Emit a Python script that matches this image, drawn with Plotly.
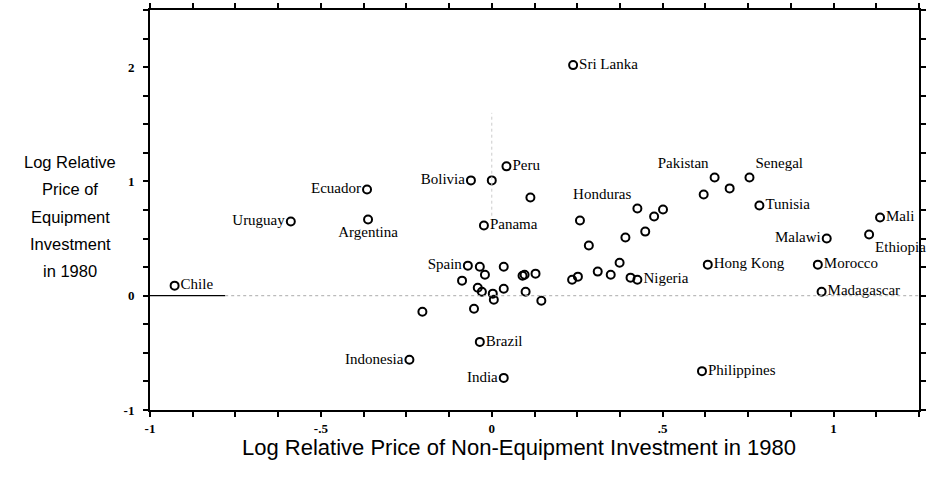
import plotly.graph_objects as go

# ---- data ----
names = ["Chile", "Uruguay", "Ecuador", "Argentina", "Sri Lanka", "Peru", "Bolivia", "", "",
         "Panama", "Spain", "", "", "", "", "", "", "", "", "", "", "", "", "", "", "",
         "Brazil", "Indonesia", "India", "", "", "", "", "", "", "", "", "", "Nigeria",
         "Honduras", "", "", "", "", "Pakistan", "", "Senegal", "Tunisia", "Mali", "Malawi",
         "Ethiopia", "Hong Kong", "Morocco", "Madagascar", "Philippines", ""]
x_nonequip = [-0.928, -0.588, -0.365, -0.362, 0.238, 0.043, -0.061, 0.000, 0.113,
              -0.023, -0.070, -0.035, -0.020, 0.035, 0.096, 0.128, -0.087, -0.041, -0.029,
              0.003, 0.006, 0.035, 0.099, 0.145, -0.203, -0.052,
              -0.035, -0.241, 0.035, 0.258, 0.284, 0.235, 0.252, 0.310, 0.348, 0.374,
              0.391, 0.406, 0.426,
              0.426, 0.449, 0.475, 0.501, 0.620, 0.652, 0.696, 0.754, 0.783, 1.136, 0.980,
              1.104, 0.632, 0.954, 0.965, 0.615, 0.090]
y_equip = [0.088, 0.649, 0.930, 0.667, 2.018, 1.132, 1.009, 1.009, 0.860,
           0.614, 0.263, 0.254, 0.184, 0.254, 0.184, 0.193, 0.132, 0.070, 0.035,
           0.018, -0.035, 0.061, 0.035, -0.044, -0.140, -0.114,
           -0.404, -0.561, -0.719, 0.658, 0.439, 0.140, 0.167, 0.211, 0.184, 0.289,
           0.509, 0.158, 0.140,
           0.763, 0.561, 0.693, 0.754, 0.886, 1.035, 0.939, 1.035, 0.789, 0.684, 0.500,
           0.535, 0.272, 0.272, 0.035, -0.660, 0.175]
label_pos = {
    "Chile": "middle right", "Uruguay": "middle left", "Ecuador": "middle left",
    "Argentina": "bottom center", "Sri Lanka": "middle right", "Peru": "middle right",
    "Bolivia": "middle left", "Panama": "middle right", "Spain": "middle left",
    "Brazil": "middle right", "Indonesia": "middle left", "India": "middle left",
    "Nigeria": "middle right", "Honduras": "top left", "Pakistan": "top left",
    "Senegal": "top right", "Tunisia": "middle right", "Mali": "middle right",
    "Malawi": "middle left", "Ethiopia": "bottom right", "Hong Kong": "middle right",
    "Morocco": "middle right", "Madagascar": "middle right", "Philippines": "middle right",
}
x_tickvals = [-1, -0.5, 0, 0.5, 1]
x_ticktext = ["-1", "-.5", "0", ".5", "1"]
y_tickvals = [-1, 0, 1, 2]
y_ticktext = ["-1", "0", "1", "2"]
y_title_lines = ["Log Relative", "Price of", "Equipment", "Investment", "in 1980"]
x_title = "Log Relative Price of Non-Equipment Investment in 1980"

positions = [label_pos.get(n, "middle right") for n in names]

fig = go.Figure()
# faint reference lines at zero
fig.add_shape(type="line", x0=-1, x1=-0.78, y0=0, y1=0, line=dict(color="black", width=1.2))
fig.add_shape(type="line", x0=-0.78, x1=1.25, y0=0, y1=0,
              line=dict(color="#aaa", width=1, dash="dot"))
fig.add_shape(type="line", x0=0, x1=0, y0=0.7, y1=1.6,
              line=dict(color="#ccc", width=1, dash="dot"))

fig.add_trace(go.Scatter(
    x=x_nonequip, y=y_equip, mode="markers+text",
    text=names, textposition=positions,
    textfont=dict(family="Liberation Serif", size=15, color="black"),
    marker=dict(symbol="circle-open", size=8, color="black", line=dict(width=2, color="black")),
    cliponaxis=False, showlegend=False, hoverinfo="skip",
))

axis_common = dict(
    showgrid=False, zeroline=False, showline=True, linecolor="black", linewidth=2,
    mirror="ticks", ticks="outside", ticklen=5, tickwidth=1.5, tickcolor="black",
    tickfont=dict(family="Liberation Serif", size=13, color="black"),
)
fig.update_xaxes(range=[-1, 1.25], tickvals=x_tickvals,
                 ticktext=["<b>%s</b>" % t for t in x_ticktext],
                 minor=dict(dtick=0.125, tick0=-1, ticks="outside", ticklen=5,
                            tickwidth=1.5, tickcolor="black"),
                 ticklabelstandoff=0, **axis_common)
fig.update_yaxes(range=[-1, 2.5], tickvals=y_tickvals,
                 ticktext=["<b>%s</b>" % t for t in y_ticktext],
                 minor=dict(dtick=0.25, tick0=-1, ticks="outside", ticklen=5,
                            tickwidth=1.5, tickcolor="black"),
                 ticklabelstandoff=6, **axis_common)

fig.add_annotation(text=x_title, xref="paper", yref="paper", x=0.48, y=-0.0925,
                   yanchor="middle", showarrow=False,
                   font=dict(family="Liberation Sans", size=22, color="black"))
for i, line in enumerate(y_title_lines):
    fig.add_annotation(text=line, xref="paper", yref="paper", x=-0.104, xanchor="center",
                       y=(410 - (162 + 27.3 * i)) / 400, yanchor="middle", showarrow=False,
                       font=dict(family="Liberation Sans", size=16.5, color="black"))

fig.update_layout(width=928, height=478, margin=dict(l=150, r=2, t=10, b=68),
                  plot_bgcolor="white", paper_bgcolor="white")
fig.write_html("out.html", config={"displayModeBar": False},
               post_script="document.body.style.margin='0';document.body.style.overflow='hidden';")
